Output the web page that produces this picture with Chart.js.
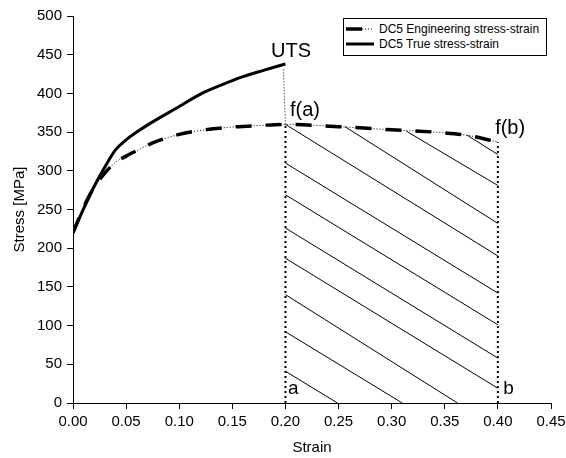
<!DOCTYPE html>
<html>
<head>
<meta charset="utf-8">
<script src="https://cdn.jsdelivr.net/npm/chart.js@4.4.0/dist/chart.umd.min.js"></script>
<style>
  body { margin: 0; background: #fff; }
  #wrap { position: relative; width: 566px; height: 458px; }
  #legend {
    position: absolute; left: 343px; top: 18px; width: 202px; height: 34px;
    border: 1px solid #000; background: #fff;
    font: 12px "Liberation Sans", Arial, sans-serif; color: #000;
    padding-top: 2px; box-sizing: content-box;
  }
  #legend .row { display: flex; align-items: center; height: 15px; white-space: nowrap; }
  #legend svg { margin-left: 1px; margin-right: 4px; }
</style>
</head>
<body>
<div id="wrap">
  <canvas id="stressChart" width="566" height="458"></canvas>
  <div id="legend">
    <div class="row">
      <svg width="30" height="6"><line x1="1" y1="3" x2="17" y2="3" stroke="#000" stroke-width="3.5"/><line x1="17" y1="3" x2="29" y2="3" stroke="#000" stroke-width="1" stroke-dasharray="1,2"/></svg>
      <span>DC5 Engineering stress-strain</span>
    </div>
    <div class="row">
      <svg width="30" height="6"><line x1="1" y1="3" x2="29" y2="3" stroke="#000" stroke-width="3"/></svg>
      <span>DC5 True stress-strain</span>
    </div>
  </div>
</div>
<script>
// engineering stress-strain curve
const engStrain = [0, 0.01, 0.02, 0.03, 0.04, 0.05, 0.06, 0.075, 0.1, 0.125, 0.15, 0.175, 0.2, 0.25, 0.3, 0.35, 0.375, 0.4];
const engStress = [220, 253, 279, 297, 311, 319, 326, 336, 347, 353, 356.5, 358.5, 360, 357, 353, 349, 345, 337];

// true stress-strain curve
const trueStrain = [0, 0.01, 0.02, 0.03, 0.04, 0.05, 0.06, 0.07, 0.1, 0.12, 0.14, 0.16, 0.18, 0.2];
const trueStress = [220, 251, 280, 305, 327, 340, 350, 359, 383, 399, 411, 421.6, 430, 438];

// dotted guides: UTS drop and the a / b verticals
const utsDrop = [[0.198, 431], [0.2, 360]];
const lineA = [[0.2, 0], [0.2, 360]];
const lineB = [[0.4, 0], [0.4, 337]];

// hatch lines under the curve between a and b
const hatchFrom = [[0.2, 41], [0.2, 92], [0.2, 140], [0.2, 187], [0.2, 226], [0.2, 269], [0.2, 310], [0.2, 360], [0.256, 357], [0.314, 351], [0.371, 346]];
const hatchTo = [[0.249, 0], [0.310, 0], [0.362, 0], [0.4, 19], [0.4, 58], [0.4, 101], [0.4, 142], [0.4, 190], [0.4, 232], [0.4, 281], [0.4, 321]];

// text labels
const labelText = ["UTS", "f(a)", "f(b)", "a", "b"];
const labelX = [0.1864, 0.2043, 0.3974, 0.2024, 0.405];
const labelY = [447, 371, 347.5, 11.6, 11.6];
const labelSize = [20, 20, 20, 19, 19];

const xTicksMin = 0, xTicksMax = 0.45, xStep = 0.05;
const yTicksMin = 0, yTicksMax = 500, yStep = 50;

const toPoints = (xs, ys) => xs.map((x, i) => ({ x: x, y: ys[i] }));
const pairPoints = (pairs) => pairs.map(p => ({ x: p[0], y: p[1] }));

const FONT = '"Liberation Sans", Arial, sans-serif';

const labelPlugin = {
    id: "labels",
    afterDatasetsDraw: (chart) => {
        const ctx = chart.ctx;
        const xs = chart.scales.x;
        const ys = chart.scales.y;
        ctx.save();
        ctx.fillStyle = "#000";
        ctx.textAlign = "left";
        ctx.textBaseline = "alphabetic";
        labelText.forEach((t, i) => {
            ctx.font = `${labelSize[i]}px ${FONT}`;
            ctx.fillText(t, xs.getPixelForValue(labelX[i]), ys.getPixelForValue(labelY[i]));
        });
        ctx.restore();
    }
};

const initChart = () => {
    const ctx = document.getElementById("stressChart").getContext("2d");

    const datasets = [];

    hatchFrom.forEach((p, i) => {
        datasets.push({
            data: pairPoints([p, hatchTo[i]]),
            borderColor: "#000",
            borderWidth: 1,
            pointRadius: 0
        });
    });

    [lineA, lineB].forEach(l => {
        datasets.push({
            data: pairPoints(l),
            borderColor: "#000",
            borderWidth: 2,
            borderDash: [2, 3],
            pointRadius: 0
        });
    });

    datasets.push({
        data: pairPoints(utsDrop),
        borderColor: "#000",
        borderWidth: 1,
        borderDash: [1, 2],
        pointRadius: 0
    });

    // engineering: thin dotted base + thick dashes on top
    datasets.push({
        label: "DC5 Engineering stress-strain",
        data: toPoints(engStrain, engStress),
        borderColor: "#000",
        borderWidth: 1,
        borderDash: [1, 2],
        pointRadius: 0,
        cubicInterpolationMode: "monotone"
    });
    datasets.push({
        data: toPoints(engStrain, engStress),
        borderColor: "#000",
        borderWidth: 3.5,
        borderDash: [16, 14],
        pointRadius: 0,
        cubicInterpolationMode: "monotone"
    });

    datasets.push({
        label: "DC5 True stress-strain",
        data: toPoints(trueStrain, trueStress),
        borderColor: "#000",
        borderWidth: 3,
        pointRadius: 0,
        cubicInterpolationMode: "monotone"
    });

    new Chart(ctx, {
        type: "line",
        data: { datasets: datasets },
        options: {
            responsive: false,
            animation: false,
            devicePixelRatio: 1,
            layout: { padding: { top: 16, right: 15, left: 0, bottom: 0 } },
            plugins: {
                legend: { display: false },
                tooltip: { enabled: false }
            },
            scales: {
                x: {
                    type: "linear",
                    min: xTicksMin,
                    max: xTicksMax,
                    afterFit: (s) => { s.height = 55; s.paddingLeft = 0; s.paddingRight = 0; },
                    ticks: {
                        stepSize: xStep,
                        color: "#000",
                        padding: 4,
                        maxRotation: 0,
                        font: { family: FONT, size: 15 },
                        callback: (v) => v.toFixed(2)
                    },
                    grid: { display: true, drawOnChartArea: false, drawTicks: true, tickLength: 6, color: "#000" },
                    border: { display: true, color: "#000", width: 1 },
                    title: {
                        display: true,
                        text: "Strain",
                        color: "#000",
                        font: { family: FONT, size: 15 },
                        padding: { top: 0, bottom: 1 }
                    }
                },
                y: {
                    type: "linear",
                    min: yTicksMin,
                    max: yTicksMax,
                    afterFit: (s) => { s.width = 73; },
                    ticks: {
                        stepSize: yStep,
                        color: "#000",
                        padding: 5,
                        font: { family: FONT, size: 15 }
                    },
                    grid: { display: true, drawOnChartArea: false, drawTicks: true, tickLength: 6, color: "#000" },
                    border: { display: true, color: "#000", width: 1 },
                    title: {
                        display: true,
                        text: "Stress [MPa]",
                        color: "#000",
                        font: { family: FONT, size: 15 },
                        padding: { top: 11, bottom: 0 }
                    }
                }
            }
        },
        plugins: [labelPlugin]
    });
};

window.addEventListener("load", () => {
    initChart();
});
</script>
</body>
</html>
